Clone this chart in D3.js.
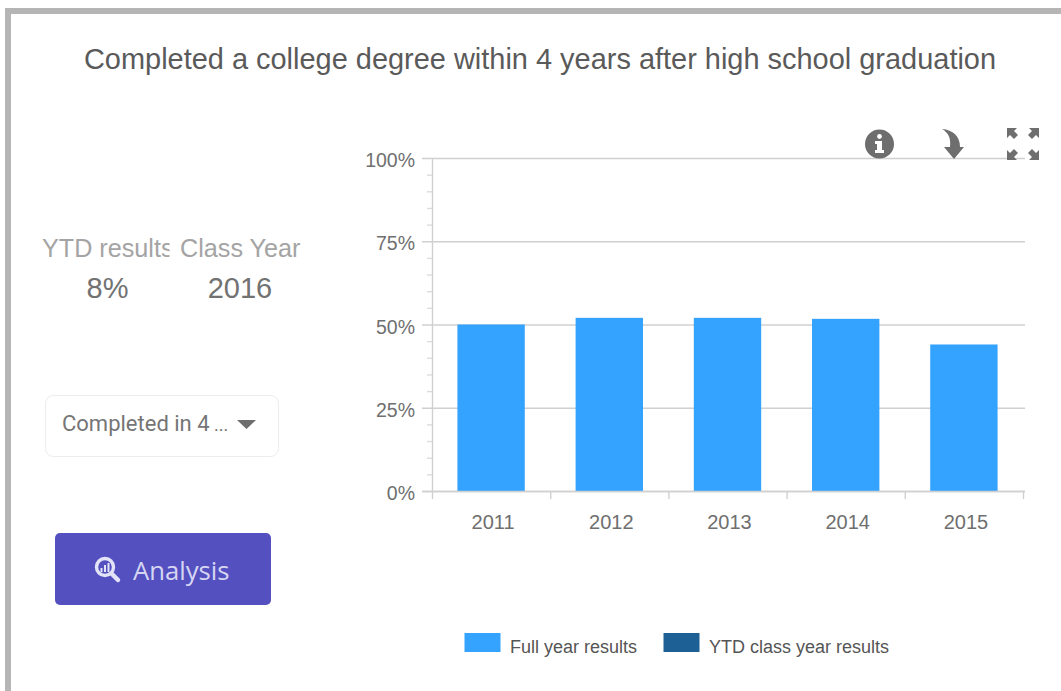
<!DOCTYPE html>
<html><head><meta charset="utf-8">
<script src="https://cdnjs.cloudflare.com/ajax/libs/d3/7.8.5/d3.min.js"></script>
<style>html,body{margin:0;padding:0;background:#fff}svg{display:block}text{font-family:"Liberation Sans",Arial,sans-serif}</style>
</head><body><div id="c"></div>
<script>
const titleText="Completed a college degree within 4 years after high school graduation";
const years=["2011","2012","2013","2014","2015"];
const fullYearValues=[50,52,52,51.7,44];
const yTicks=[0,25,50,75,100];
const minorTicks=[5,10,15,20,30,35,40,45,55,60,65,70,80,85,90,95];
const legendLabels=["Full year results","YTD class year results"];
const legendColors=["#33a3ff","#1d6096"];
const statLabels=["YTD results","Class Year"];
const statValues=["8%","2016"];
const dropdownText="Completed in 4";
const dropdownEllipsis=" ...";
const buttonText="Analysis";

const svg=d3.select("#c").append("svg").attr("width",1061).attr("height",691);
svg.append("rect").attr("width",1061).attr("height",691).attr("fill","#fff");
// frame
svg.append("rect").attr("x",5).attr("y",8).attr("width",1056).attr("height",6).attr("fill","#b5b5b5");
svg.append("rect").attr("x",5).attr("y",8).attr("width",6).attr("height",683).attr("fill","#b5b5b5");
// title
svg.append("text").attr("x",540).attr("y",69).attr("text-anchor","middle").attr("font-size",28.95).attr("fill","#5a5a5a").text(titleText);

// scales
const y=d3.scaleLinear().domain([0,100]).range([491,158]);
const x=d3.scaleBand().domain(years).range([432,1023]).paddingInner(0.43).paddingOuter(0.215);
const xOuter=d3.scaleBand().domain(years).range([432.5,1023.5]);
const line="#d0d0d0";

const g=svg.append("g");
// grid + major ticks
g.selectAll("line.grid").data(yTicks).join("line").attr("class","grid")
 .attr("x1",422).attr("x2",1025).attr("y1",d=>y(d)+.5).attr("y2",d=>y(d)+.5).attr("stroke",line).attr("stroke-width",1.6);
// minor ticks
g.selectAll("line.minor").data(minorTicks).join("line").attr("class","minor")
 .attr("x1",427).attr("x2",432).attr("y1",d=>y(d)+.5).attr("y2",d=>y(d)+.5).attr("stroke","#dcdcdc").attr("stroke-width",1.4);
// y axis line
g.append("line").attr("x1",432.5).attr("x2",432.5).attr("y1",y(100)).attr("y2",499).attr("stroke",line).attr("stroke-width",1.4);
// bars
g.selectAll("rect.bar").data(fullYearValues).join("rect").attr("class","bar")
 .attr("x",(d,i)=>x(years[i])).attr("width",x.bandwidth())
 .attr("y",d=>y(d)).attr("height",d=>y(0)-y(d)).attr("fill",legendColors[0]);
// baseline above bars
g.append("line").attr("x1",422).attr("x2",1025).attr("y1",y(0)+.5).attr("y2",y(0)+.5).attr("stroke",line).attr("stroke-width",1.6);
// x ticks
const xEdges=years.map(d=>xOuter(d)+xOuter.bandwidth());
g.selectAll("line.xt").data(xEdges).join("line").attr("class","xt")
 .attr("x1",d=>d).attr("x2",d=>d).attr("y1",491).attr("y2",499).attr("stroke",line).attr("stroke-width",1.4);
// labels
g.selectAll("text.yl").data(yTicks).join("text").attr("class","yl")
 .attr("x",415).attr("y",d=>y(d)+9).attr("text-anchor","end").attr("font-size",19.5).attr("fill","#6f6f6f").text(d=>d+"%");
g.selectAll("text.xl").data(years).join("text").attr("class","xl")
 .attr("x",d=>xOuter(d)+xOuter.bandwidth()/2+1.5).attr("y",529).attr("text-anchor","middle").attr("font-size",20).attr("fill","#6f6f6f").text(d=>d);

// icons
const ic=svg.append("g");
ic.append("circle").attr("cx",879.5).attr("cy",144).attr("r",14.5).attr("fill","#6e6e6e");
ic.append("circle").attr("cx",879.5).attr("cy",136.5).attr("r",2.4).attr("fill","#fff");
ic.append("path").attr("d","M875 141h7v9h2v3h-9v-3h2v-6h-2z").attr("fill","#fff");
ic.append("path").attr("d","M942 129 C953 130 960 136 960 147 L964 147 L954 159 L944 147 L950 147 C951 139 949 133 942 129Z").attr("fill","#6e6e6e");
const arrow=(cx,cy,sx,sy)=>ic.append("path").attr("transform",`translate(${cx},${cy}) scale(${sx},${sy})`)
 .attr("d","M0 0H10L7 3L11 7L7 11L3 7L0 10Z").attr("fill","#6e6e6e");
arrow(1007,128,1,1);arrow(1039,128,-1,1);arrow(1007,160,1,-1);arrow(1039,160,-1,-1);

// stats
const defs=svg.append("defs");
defs.append("clipPath").attr("id","clipL").append("rect").attr("x",30).attr("y",225).attr("width",139.5).attr("height",45);
svg.append("text").attr("x",42).attr("y",257).attr("font-size",25.2).attr("fill","#a4a4a4").attr("clip-path","url(#clipL)").text(statLabels[0]);
svg.append("text").attr("x",180).attr("y",257).attr("font-size",25.2).attr("fill","#a4a4a4").text(statLabels[1]);
svg.append("text").attr("x",107.5).attr("y",298).attr("text-anchor","middle").attr("font-size",29).attr("fill","#727272").text(statValues[0]);
svg.append("text").attr("x",240).attr("y",298).attr("text-anchor","middle").attr("font-size",29).attr("fill","#727272").text(statValues[1]);

// dropdown
svg.append("rect").attr("x",45.5).attr("y",395.5).attr("width",233).attr("height",61).attr("rx",8).attr("fill","#fff").attr("stroke","#ececec");
const dd=svg.append("text").attr("x",62).attr("y",431).attr("font-size",22).attr("fill","#757575").style("font-family","Roboto").text(dropdownText);
dd.append("tspan").attr("font-size",18).text(dropdownEllipsis);
svg.append("path").attr("d","M237 420H256L246.5 429Z").attr("fill","#6e6e6e");

// button
svg.append("rect").attr("x",55).attr("y",533).attr("width",216).attr("height",72).attr("rx",5).attr("fill","#5450c0");
const b=svg.append("g");
b.append("circle").attr("cx",105).attr("cy",567).attr("r",8.5).attr("fill","none").attr("stroke","#e4e4f8").attr("stroke-width",3.4);
b.append("line").attr("x1",112).attr("y1",574).attr("x2",118).attr("y2",580).attr("stroke","#e4e4f8").attr("stroke-width",4.5).attr("stroke-linecap","round");
b.append("path").attr("d","M100.5 572v-4h2v4zM104 572v-7h2v7zM107.5 572v-9h2v9z").attr("fill","#e4e4f8");
svg.append("text").attr("x",133).attr("y",580).attr("font-size",25.7).attr("fill","#d6d6f3").style("font-family","'Open Sans'").text(buttonText);

// legend
const lx=[464.5,663.5], tx=[510,709];
legendLabels.forEach((t,i)=>{
 svg.append("rect").attr("x",lx[i]).attr("y",633).attr("width",36).attr("height",19).attr("fill",legendColors[i]);
 svg.append("text").attr("x",tx[i]).attr("y",652.5).attr("font-size",18).attr("fill","#555").text(t);
});
</script></body></html>
